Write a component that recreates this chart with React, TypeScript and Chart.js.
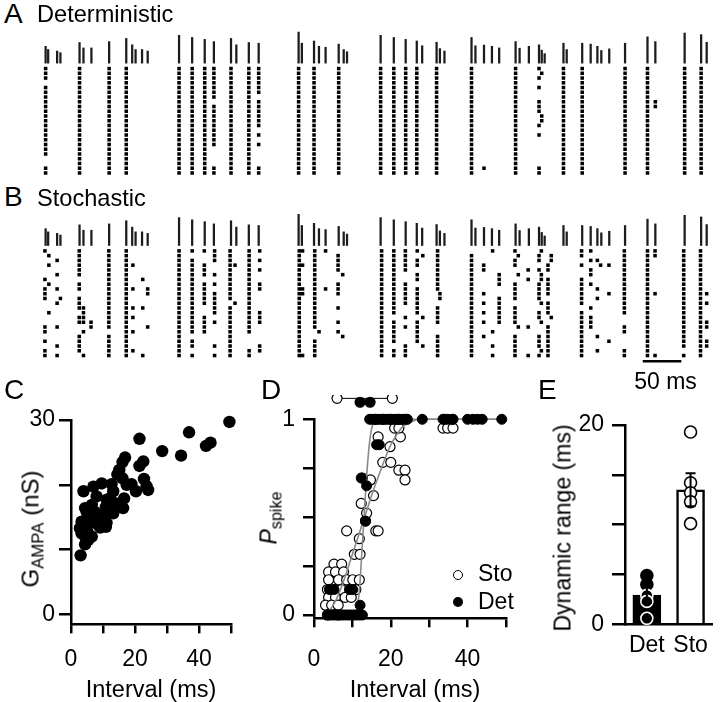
import React, { useEffect, useRef } from "react";
import { Chart, registerables } from "chart.js";

Chart.register(...registerables);

// ================= DATA =================
// Stimulus train shared by A and B: onset time (ms) and G_AMPA (nS)
const STIM_TIMES = [7.3, 10.6, 22.2, 26.5, 51.3, 56.4, 66.7, 89.7, 111.9, 119.6, 124.0, 132.4, 139.7, 180.4, 197.4, 213.7, 225.6, 247.8, 254.7, 270.9, 283.7, 335.5, 339.7, 355.5, 361.9, 370.5, 387.5, 394.0, 398.3, 441.9, 459.0, 474.4, 488.8, 495.8, 514.5, 518.8, 524.7, 559.8, 564.9, 576.0, 586.3, 595.7, 617.0, 622.2, 634.2, 647.4, 650.9, 654.7, 679.1, 683.3, 703.4, 714.4, 723.1, 728.2, 738.5, 759.0, 788.1, 798.3, 836.3, 857.7, 864.9];
const STIM_GAMPA = [17.7, 14.3, 12.7, 11, 21.7, 16, 16, 22.7, 26, 19.3, 14.3, 14.3, 12.7, 29.3, 27, 25, 22.7, 26, 19.3, 21.7, 21, 32.7, 21, 23.3, 17.7, 16.7, 20, 14.3, 12, 29.3, 27, 25, 23.3, 18.3, 22, 15.3, 12.7, 27, 18.3, 19, 17.7, 16, 22.7, 15.7, 17.7, 19.3, 13.7, 10, 21, 14.3, 21, 20, 17.7, 13.3, 15, 21, 27.7, 22.7, 31.7, 30, 22];

// Raster columns: [spike time (ms), trials 0..22 ('#' = spike)]
const DET_SPIKES: [number, string][] = [
  [7.3, "###.# ##### ##### ####. .##"],
  [51.3, "##### ##### ##### ##### ###"],
  [89.7, "##### ##### ##### ##### ###"],
  [111.9, "##### ##### ##### ##### ###"],
  [180.4, "##### ##### ##### ##### ###"],
  [197.4, "##### ##### ##### ##### ###"],
  [213.7, "##### ##### ##### ##### ###"],
  [225.6, "##### ##.## ##### ##... .##"],
  [247.8, "##### ##### ##### ##### ###"],
  [270.9, "##### ##### ##### ##### ###"],
  [283.7, "##### #.### ###.# .#... .##"],
  [335.5, "##### ##### ##### ##### ###"],
  [355.5, "##### ##### ##### ##### ###"],
  [387.5, "##### ##### ##### ##### ###"],
  [441.9, "##### ##### ##### ##### ###"],
  [459.0, "##### ##### ##### ##### ###"],
  [474.4, "##### ##### ##### ##### ###"],
  [488.8, "##### ##### ##### ##### ###"],
  [514.5, "##### ##### ##### ##### ###"],
  [559.8, "##### ##### ##### ##### ###"],
  [576.0, "..... ..... ..... ..... .#."],
  [617.0, "##### ##### ##### ##### ###"],
  [647.4, "#.#.# ..### ..#.# ..... .##"],
  [650.9, ".#... ..... ##... ..... ..."],
  [679.1, "##### ##### ##### ##### ###"],
  [703.4, "##### ##### ##### ##### ###"],
  [759.0, "##### ##### ##### ##### ###"],
  [788.1, "##### ##### ##### ##### ###"],
  [798.3, "..... ..##. ..... ..... ..."],
  [836.3, "##### ##### ##### ##### ###"],
  [857.7, "##### ##### ##### ##### ###"],
];

const STO_SPIKES: [number, string][] = [
  [6.4, "#.... .#.## #.... .##.# .##"],
  [11.5, ".#.#. ..#.. ...#. ..... ..."],
  [22.2, "..#.. #..#. .#... .#... #.#"],
  [26.5, "..... ..... #.... ..... ..."],
  [50.9, "##### #.##. ###.# #..## ##."],
  [56.4, "..... ..... ..### #.#.. ..#"],
  [66.2, "..... ..... ..... ##... ..."],
  [89.3, "##### ##### ##### ##.## ###"],
  [111.9, "##### ##### ##### ##### ###"],
  [120.5, "...#. ...#. ..#.# ..#.. .#."],
  [133.3, "..... .#... ..#.. ..... ..#"],
  [139.7, "..... ...## ..... .#... ..."],
  [180.4, "##### ##### ##### ##### ###"],
  [197.4, "#.### ##### ##### ###.# #.#"],
  [213.2, "#..## #.### ##..# ###.. ..."],
  [226.5, "###.. #.#.# ####. #.... #.#"],
  [246.6, "##### ##### #.### ##### ###"],
  [253.0, "...#. ..... .#... ..... ..."],
  [271.3, "##### ##### ##### ###.. .##"],
  [285.0, "#.#.# ..##. ...## #.... ##."],
  [336.3, "##### ##### ##### ##### ###"],
  [340.6, "#..#. ...## ..... ..... ..#"],
  [356.4, "##### ##### ##### ##..# ###"],
  [362.0, "..... ..... ..... ..#.. ..."],
  [370.5, "#.... ...#. ..... ..... ..."],
  [386.7, ".#### ..### ..#.. #.#.. ..."],
  [392.7, "..... #.... ..... ...#. ..."],
  [443.2, "##### ##### ##### ##### ###"],
  [459.0, "##### ##### ####. ##### .##"],
  [474.0, "##### ..### ##..# .#... ###"],
  [489.4, "#.##. ##.## ####. ##### ..."],
  [496.6, ".#... ..... ....# ..... #.."],
  [515.8, "##### ####. ..### #..## ###"],
  [518.8, "..... ....# #.... ..... ..."],
  [559.8, ".#### ##### ##### ##### ###"],
  [575.6, "...## ....# .#.#. #..#. ..."],
  [587.2, "#.... ..... ..... ..#.. #.#"],
  [595.7, "..... ###.. ##### #.... ..."],
  [616.2, "#.##. ..### #.### #..## ###"],
  [620.5, ".#... #.... ..... .#... ..."],
  [633.3, "....# .#... ..... .#... ..#"],
  [647.4, ".##.# ..### #..## ...## #.#"],
  [650.4, "#.... ##... .#... #.... .#."],
  [659.0, "...## .#### .###. .#### ###"],
  [663.3, ".##.. ..... ....# ..... ..."],
  [702.6, "##.#. .#### ##.## ##### ###"],
  [714.5, "#.#.# #.#.. ..#.# ##... ..."],
  [723.1, "..#.. ...#. #.... ...#. .#."],
  [727.3, "...#. ..... ..... ..... ..."],
  [738.1, "...#. ....# ..... ....# ..."],
  [758.1, "##### ##### ####. .##.. .##"],
  [788.1, "##### ##### ##### ##### ###"],
  [797.9, "##... ....# ..... ..... ..#"],
  [835.1, "##### ##### ##### ##### #.#"],
  [856.9, "##### ##### ##### ##### ###"],
  [864.9, "..... ....# .#... ##..# #.."],
];

const SCALE_BAR_START_MS = 782;
const SCALE_BAR_MS = 50;

// Panel C: interval (ms) vs G_AMPA (nS)
const C_INTERVAL = [49.5, 36.9, 42.2, 43.6, 28.5, 34.4, 21.4, 16.9, 16.1, 22.6, 21.4, 15.1, 14.5, 16.1, 22.8, 12.7, 9.6, 7.0, 3.9, 13.2, 17.4, 18.9, 20.3, 23.6, 24.1, 8.0, 11.2, 12.2, 16.6, 14.0, 10.9, 11.1, 16.3, 4.4, 4.9, 6.5, 7.5, 5.9, 5.4, 9.1, 10.1, 10.9, 9.1, 3.3, 2.8, 3.3, 4.4, 6.5, 5.4, 4.4, 3.0, 7.5, 8.0, 11.1, 13.2, 4.9, 5.1];
const C_GAMPA = [29.7, 28.1, 26.0, 26.5, 25.2, 24.5, 27.1, 24.2, 23.5, 23.6, 22.9, 22.3, 21.6, 21.0, 20.9, 20.1, 20.2, 19.7, 19.0, 19.0, 20.0, 20.1, 19.0, 19.8, 19.2, 18.2, 17.7, 17.9, 17.9, 17.1, 16.6, 15.8, 16.4, 16.4, 15.8, 16.9, 15.8, 15.1, 14.6, 14.8, 13.8, 13.5, 13.4, 14.3, 13.3, 12.5, 12.0, 12.0, 11.5, 10.8, 9.1, 14.8, 14.0, 14.1, 15.6, 13.8, 12.8];

// Panel D: interval (ms) vs P_spike
const D_STO: [number, number][] = [
  [5.2, 0.26], [7.2, 0.26], [3.8, 0.22], [5.6, 0.22], [7.7, 0.22],
  [3.8, 0.18], [6.4, 0.18], [8.5, 0.18], [10.1, 0.18], [11.8, 0.18],
  [3.5, 0.13], [5.2, 0.13], [7.2, 0.13], [9.3, 0.13], [10.9, 0.13],
  [3.8, 0.09], [5.6, 0.09], [8.1, 0.09], [9.7, 0.09],
  [3.0, 0.05], [4.6, 0.05], [6.3, 0.05], [3.5, 0], [6.4, 0],
  [10.5, 0.31], [12.0, 0.31], [11.8, 0.39], [8.5, 0.43], [16.1, 0.43], [16.7, 0.43],
  [13.4, 0.48], [13.7, 0.52], [12.3, 0.57], [15.5, 0.61], [14.7, 0.69], [12.6, 0.7],
  [17.9, 0.78], [20.0, 0.78], [22.1, 0.74], [23.7, 0.74], [23.7, 0.69],
  [19.8, 0.86], [16.7, 0.91], [22.5, 0.91],
  [21.0, 0.955], [22.1, 0.955], [33.6, 0.955], [34.8, 0.955], [36.2, 0.955],
  [16, 1], [18, 1], [20, 1], [22, 1], [24, 1], [34, 1], [36, 1],
];
const D_DET: [number, number][] = [
  [3.5, 0], [4.2, 0], [4.9, 0], [5.6, 0], [6.3, 0], [7.0, 0], [7.7, 0], [8.4, 0], [9.1, 0], [9.8, 0], [10.5, 0], [11.2, 0], [11.9, 0], [12.6, 0],
  [12.0, 0.05], [4.0, 0.13], [5.2, 0.13], [9.3, 0.13], [10.1, 0.13],
  [13.4, 0.48], [12.3, 0.7], [13.7, 0.66], [16.3, 0.87], [17.0, 0.87],
  [14.5, 1], [15.2, 1], [15.9, 1], [16.6, 1], [17.3, 1], [18.0, 1], [18.7, 1], [19.4, 1], [20.1, 1], [20.8, 1], [21.5, 1], [22.2, 1], [22.9, 1], [23.6, 1], [24.3, 1],
  [28.2, 1], [33.6, 1], [34.8, 1], [36.2, 1], [40.0, 1], [41.4, 1], [42.6, 1], [43.8, 1], [48.9, 1],
];
const D_STO_FIT: [number, number][] = [[3.5, 0.01], [5, 0.05], [6.5, 0.11], [8, 0.19], [9.5, 0.28], [11, 0.37], [12.5, 0.46], [14, 0.55], [15.5, 0.64], [17, 0.72], [18.5, 0.8], [20, 0.87], [21.5, 0.92], [23, 0.96], [25, 0.985], [28, 1], [50, 1]];
const D_DET_FIT: [number, number][] = [[3.5, 0], [10.5, 0], [11.2, 0.04], [11.8, 0.12], [12.4, 0.3], [13, 0.49], [13.6, 0.68], [14.2, 0.83], [14.8, 0.93], [15.4, 0.98], [16.3, 1], [50, 1]];
const D_STO_RANGE = [6.0, 20.4];
const D_DET_RANGE = [12.0, 14.6];

// Panel E: dynamic range (ms)
const E_GROUPS = ["Det", "Sto"];
const E_MEAN = [2.94, 13.5];
const E_SEM = [0.8, 1.65];
const E_DET_CELLS = [4.9, 4.0, 2.9, 2.3, 0.6];
const E_STO_CELLS = [19.3, 14.2, 13.2, 12.3, 10.1];

// ================= STYLE / LAYOUT =================
const FONT = "'Liberation Sans', Arial, Helvetica, sans-serif";
const RASTER_LEFT = 36;
const RASTER_WIDTH = 680;
const PX_PER_MS = 0.78;
const ROW_PX = 5;

Chart.defaults.font.family = FONT;
Chart.defaults.color = "#000";

function spikesToPoints(cols: [number, string][]) {
  const pts: { x: number; y: number }[] = [];
  cols.forEach(([t, pat]) => {
    const p = pat.replace(/\s/g, "");
    for (let k = 0; k < p.length; k++) if (p[k] === "#") pts.push({ x: t, y: k });
  });
  return pts;
}

const baseOpts: any = {
  responsive: false,
  animation: false,
  events: [],
  plugins: { legend: { display: false }, tooltip: { enabled: false } },
};

function makeRaster(canvas: HTMLCanvasElement, cols: [number, string][], top: number, height: number, baseY: number, firstRowY: number, withBar: boolean) {
  const minT = -(firstRowY - top) / ROW_PX;
  const maxT = minT + height / ROW_PX;
  const maxA = baseY - top;
  const minA = maxA - height;
  const datasets: any[] = [
    {
      type: "bar",
      data: STIM_TIMES.map((t, i) => ({ x: t, y: [0, STIM_GAMPA[i]] })),
      yAxisID: "yA",
      backgroundColor: "#1c1c1c",
      borderWidth: 0,
      barThickness: 1.6,
      order: 2,
    },
    {
      type: "scatter",
      data: spikesToPoints(cols),
      yAxisID: "yT",
      pointStyle: "rect",
      pointRadius: 2.5,
      pointBackgroundColor: "#000",
      pointBorderWidth: 0,
      order: 1,
    },
  ];
  if (withBar) {
    datasets.push({
      type: "line",
      data: [
        { x: SCALE_BAR_START_MS, y: 23.2 },
        { x: SCALE_BAR_START_MS + SCALE_BAR_MS, y: 23.2 },
      ],
      yAxisID: "yT",
      borderColor: "#000",
      borderWidth: 2.5,
      pointRadius: 0,
      order: 0,
    });
  }
  return new Chart(canvas, {
    type: "scatter",
    data: { datasets },
    options: {
      ...baseOpts,
      layout: { padding: 0 },
      scales: {
        x: { type: "linear", display: false, offset: false, grid: { offset: false }, min: 0, max: RASTER_WIDTH / PX_PER_MS },
        yT: { type: "linear", display: false, reverse: true, min: minT, max: maxT },
        yA: { type: "linear", display: false, min: minA, max: maxA },
      },
    } as any,
  });
}

function axis(opts: { min: number; max: number; ticks: number[]; labels: number[]; tickLength: number; padding: number; size?: number; fitW?: number; fitH?: number }) {
  return {
    type: "linear",
    min: opts.min,
    max: opts.max,
    afterBuildTicks: (s: any) => {
      s.ticks = opts.ticks.map((v) => ({ value: v }));
    },
    afterFit: (s: any) => {
      if (opts.fitW !== undefined) s.width = opts.fitW;
      if (opts.fitH !== undefined) s.height = opts.fitH;
    },
    grid: { display: true, drawOnChartArea: false, drawTicks: true, tickLength: opts.tickLength, color: "#000", lineWidth: 2.5 },
    border: { display: true, color: "#000", width: 2.5 },
    ticks: {
      color: "#000",
      font: { size: opts.size ?? 23, family: FONT },
      padding: opts.padding,
      maxRotation: 0,
      autoSkip: false,
      callback: (v: any) => (opts.labels.includes(Number(v)) ? String(v) : ""),
    },
  };
}

function makeC(canvas: HTMLCanvasElement) {
  return new Chart(canvas, {
    type: "scatter",
    data: {
      datasets: [
        {
          data: C_INTERVAL.map((x, i) => ({ x, y: C_GAMPA[i] })),
          pointRadius: 6.2,
          pointBackgroundColor: "#000",
          pointBorderWidth: 0,
          clip: false,
        },
      ],
    },
    options: {
      ...baseOpts,
      layout: { padding: { top: 25, right: 14, left: 0, bottom: 0 } },
      scales: {
        x: axis({ min: 0, max: 50, ticks: [0, 10, 20, 30, 40, 50], labels: [0, 20, 40], tickLength: 9, padding: 13, fitH: 77.7 }),
        y: axis({ min: -1.544, max: 30, ticks: [0, 10, 20, 30], labels: [0, 30], tickLength: 12, padding: 4, fitW: 71 }),
      },
    } as any,
  });
}

// draws the dynamic-range markers above the P = 1 line (outside the chart area)
const rangeMarkerPlugin = {
  id: "rangeMarkers",
  afterDatasetsDraw(chart: any) {
    const ctx = chart.ctx;
    const xs = chart.scales.x;
    const ys = chart.scales.y;
    const rows: [number[], number, string][] = [
      [D_STO_RANGE, 1.107, "#fff"],
      [D_DET_RANGE, 1.087, "#000"],
    ];
    ctx.save();
    rows.forEach(([range, yv, fill]) => {
      const y = ys.getPixelForValue(yv);
      const x0 = xs.getPixelForValue(range[0]);
      const x1 = xs.getPixelForValue(range[1]);
      ctx.strokeStyle = "#000";
      ctx.lineWidth = 1;
      ctx.beginPath();
      ctx.moveTo(x0, y);
      ctx.lineTo(x1, y);
      ctx.stroke();
      [x0, x1].forEach((x) => {
        ctx.beginPath();
        ctx.arc(x, y, 5, 0, Math.PI * 2);
        ctx.fillStyle = fill;
        ctx.fill();
        ctx.lineWidth = 1.2;
        ctx.stroke();
      });
    });
    ctx.restore();
  },
};

function makeD(canvas: HTMLCanvasElement) {
  const pts = (arr: [number, number][]) => arr.map(([x, y]) => ({ x, y }));
  return new Chart(canvas, {
    type: "scatter",
    data: {
      datasets: [
        { data: pts(D_DET), pointRadius: 5, pointBackgroundColor: "#000", pointBorderColor: "#000", pointBorderWidth: 1, clip: false, order: 0 },
        { type: "line", data: pts(D_DET_FIT), borderColor: "#8a8a8a", borderWidth: 1.6, pointRadius: 0, cubicInterpolationMode: "monotone", clip: false, order: 1 },
        { type: "line", data: pts(D_STO_FIT), borderColor: "#8a8a8a", borderWidth: 1.6, pointRadius: 0, cubicInterpolationMode: "monotone", clip: false, order: 2 },
        { data: pts(D_STO), pointRadius: 5, pointBackgroundColor: "#fff", pointBorderColor: "#000", pointBorderWidth: 1.2, clip: false, order: 3 },
      ],
    },
    options: {
      ...baseOpts,
      layout: { padding: { top: 24.3, right: 8.5, left: 0, bottom: 0 } },
      scales: {
        x: axis({ min: 0, max: 50, ticks: [0, 10, 20, 30, 40, 50], labels: [0, 20, 40], tickLength: 9, padding: 19, fitH: 83.7 }),
        y: axis({ min: -0.0169, max: 1, ticks: [0, 0.25, 0.5, 0.75, 1], labels: [0, 1], tickLength: 11, padding: 8, fitW: 69 }),
      },
    } as any,
    plugins: [rangeMarkerPlugin],
  });
}

const errorBarPlugin = {
  id: "errbars",
  afterDatasetsDraw(chart: any) {
    const ctx = chart.ctx;
    const xs = chart.scales.x;
    const ys = chart.scales.y;
    ctx.save();
    ctx.strokeStyle = "#000";
    ctx.lineWidth = 2;
    E_MEAN.forEach((m, i) => {
      const x = xs.getPixelForValue(i);
      const yt = ys.getPixelForValue(m + E_SEM[i]);
      const yb = ys.getPixelForValue(m - E_SEM[i]);
      ctx.beginPath();
      ctx.moveTo(x, yb);
      ctx.lineTo(x, yt);
      ctx.moveTo(x - 5, yt);
      ctx.lineTo(x + 5, yt);
      ctx.moveTo(x - 5, yb);
      ctx.lineTo(x + 5, yb);
      ctx.stroke();
    });
    ctx.restore();
  },
};

function makeE(canvas: HTMLCanvasElement) {
  return new Chart(canvas, {
    type: "bar",
    data: {
      labels: E_GROUPS,
      datasets: [
        {
          data: E_MEAN,
          backgroundColor: ["#000", "#fff"],
          borderColor: "#000",
          borderWidth: 2.5,
          barThickness: 28,
          order: 3,
        },
        {
          type: "scatter",
          data: E_DET_CELLS.map((v) => ({ x: E_GROUPS[0], y: v })),
          pointRadius: 6,
          pointBackgroundColor: "#000",
          pointBorderColor: E_DET_CELLS.map((v) => (v < E_MEAN[0] ? "#fff" : "#000")),
          pointBorderWidth: 1.6,
          clip: false,
          order: 1,
        },
        {
          type: "scatter",
          data: E_STO_CELLS.map((v) => ({ x: E_GROUPS[1], y: v })),
          pointRadius: 6,
          pointBackgroundColor: "#fff",
          pointBorderColor: "#000",
          pointBorderWidth: 1.6,
          clip: false,
          order: 0,
        },
      ],
    },
    options: {
      ...baseOpts,
      layout: { padding: { top: 30, right: 0, left: 0, bottom: 0 } },
      scales: {
        x: {
          type: "category",
          afterFit: (s: any) => {
            s.height = 77.7;
          },
          grid: { display: false, drawTicks: false },
          border: { display: true, color: "#000", width: 2.5 },
          ticks: { color: "#000", font: { size: 23, family: FONT }, padding: 8 },
        },
        y: axis({ min: 0, max: 20, ticks: [0, 5, 10, 15, 20], labels: [0, 20], tickLength: 13, padding: 8, fitW: 85 }),
      },
    } as any,
    plugins: [errorBarPlugin],
  });
}

// ================= DOM HELPERS =================
const ASC = 0.8465; // baseline offset (em) for line-height 1

function Txt(props: { x: number; y: number; size: number; center?: boolean; children: any }) {
  const { x, y, size, center, children } = props;
  return (
    <div
      style={{
        position: "absolute",
        left: x,
        top: y - ASC * size,
        fontSize: size,
        lineHeight: `${size}px`,
        whiteSpace: "nowrap",
        transform: center ? "translateX(-50%)" : undefined,
      }}
    >
      {children}
    </div>
  );
}

function VTxt(props: { baseX: number; cy: number; size: number; children: any }) {
  const { baseX, cy, size, children } = props;
  return (
    <div
      style={{
        position: "absolute",
        left: baseX - (ASC - 0.5) * size,
        top: cy,
        fontSize: size,
        lineHeight: `${size}px`,
        whiteSpace: "nowrap",
        transform: "translate(-50%, -50%) rotate(-90deg)",
      }}
    >
      {children}
    </div>
  );
}

const subStyle: any = { fontSize: "0.7em", position: "relative", top: "0.3em" };

function Cv(props: { r: any; l: number; t: number; w: number; h: number }) {
  return <canvas ref={props.r} width={props.w} height={props.h} style={{ position: "absolute", left: props.l, top: props.t, width: props.w, height: props.h }} />;
}

export default function App() {
  const aRef = useRef<HTMLCanvasElement>(null);
  const bRef = useRef<HTMLCanvasElement>(null);
  const cRef = useRef<HTMLCanvasElement>(null);
  const dRef = useRef<HTMLCanvasElement>(null);
  const eRef = useRef<HTMLCanvasElement>(null);

  useEffect(() => {
    const charts: Chart[] = [];
    charts.push(makeRaster(aRef.current!, DET_SPIKES, 24, 158, 61, 66.7, false));
    charts.push(makeRaster(bRef.current!, STO_SPIKES, 206, 164, 243.3, 249, true));
    charts.push(makeC(cRef.current!));
    charts.push(makeD(dRef.current!));
    charts.push(makeE(eRef.current!));
    return () => charts.forEach((c) => c.destroy());
  }, []);

  return (
    <div style={{ position: "absolute", left: 0, top: 0, width: 720, height: 702, background: "#fff", fontFamily: FONT, color: "#000", overflow: "hidden" }}>
      <Cv r={aRef} l={RASTER_LEFT} t={24} w={RASTER_WIDTH} h={158} />
      <Cv r={bRef} l={RASTER_LEFT} t={206} w={RASTER_WIDTH} h={164} />
      <Cv r={cRef} l={0} t={395} w={245} h={307} />
      <Cv r={dRef} l={245} t={395} w={280} h={307} />
      <Cv r={eRef} l={540} t={395} w={180} h={307} />

      <Txt x={4} y={23.3} size={28}>A</Txt>
      <Txt x={37} y={23.3} size={23.6}>Deterministic</Txt>
      <Txt x={4} y={206.7} size={28}>B</Txt>
      <Txt x={37} y={206.7} size={23.6}>Stochastic</Txt>
      <Txt x={665.5} y={389} size={23} center>50 ms</Txt>

      <Txt x={4} y={400} size={28}>C</Txt>
      <Txt x={261} y={400} size={28}>D</Txt>
      <Txt x={538} y={400} size={28}>E</Txt>

      <VTxt baseX={40} cy={529} size={24}>
        G<span style={subStyle}>AMPA</span> (nS)
      </VTxt>
      <Txt x={151} y={698} size={23.5} center>Interval (ms)</Txt>

      <VTxt baseX={278.3} cy={517.5} size={23}>
        <i>P</i>
        <span style={subStyle}>spike</span>
      </VTxt>
      <Txt x={415} y={698} size={23.5} center>Interval (ms)</Txt>

      <div style={{ position: "absolute", left: 453.3, top: 570, width: 10, height: 10, borderRadius: "50%", border: "1.2px solid #000", boxSizing: "border-box", background: "#fff" }} />
      <div style={{ position: "absolute", left: 453.3, top: 596.7, width: 10, height: 10, borderRadius: "50%", background: "#000" }} />
      <Txt x={478} y={581.7} size={23}>Sto</Txt>
      <Txt x={478} y={609} size={23}>Det</Txt>

      <VTxt baseX={570.7} cy={528} size={23}>
        Dynamic range (ms)
      </VTxt>
    </div>
  );
}
